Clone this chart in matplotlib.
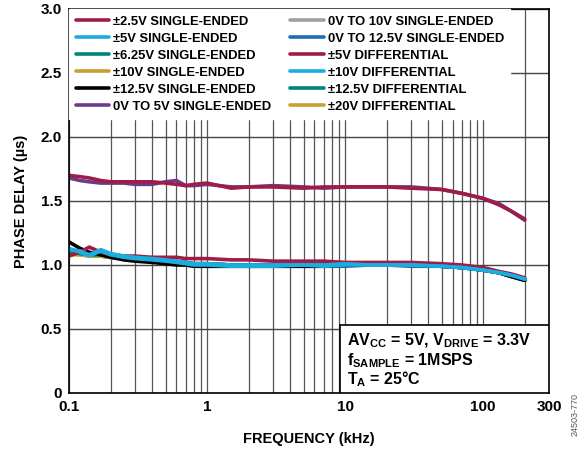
import matplotlib
matplotlib.use("Agg")
import matplotlib.pyplot as plt
from matplotlib.patches import Rectangle
from matplotlib.ticker import LogLocator, NullFormatter

plt.rcParams["font.family"] = ["Liberation Sans", "DejaVu Sans"]
plt.rcParams["font.weight"] = "bold"
plt.rcParams["mathtext.fontset"] = "custom"
plt.rcParams["mathtext.bf"] = "Liberation Sans:bold"
plt.rcParams["mathtext.rm"] = "Liberation Sans:bold"
plt.rcParams["mathtext.default"] = "bf"

# frequency points (kHz)
freq = [0.1, 0.12, 0.14, 0.17, 0.2, 0.25, 0.3, 0.4, 0.5, 0.6, 0.7, 0.8, 1,
        1.5, 2, 3, 5, 7, 10, 15, 20, 30, 50, 70, 100, 130, 160, 200]

# phase delay (us)
se_2v5 = [1.70, 1.69, 1.68, 1.66, 1.65, 1.65, 1.65, 1.65, 1.64, 1.63, 1.62, 1.63, 1.64,
          1.60, 1.61, 1.61, 1.60, 1.61, 1.61, 1.61, 1.61, 1.60, 1.59, 1.56, 1.52, 1.47, 1.42, 1.35]
se_0to5 = [1.68, 1.66, 1.65, 1.64, 1.64, 1.64, 1.63, 1.63, 1.65, 1.66, 1.62, 1.62, 1.63,
           1.61, 1.61, 1.62, 1.61, 1.60, 1.61, 1.61, 1.61, 1.61, 1.59, 1.56, 1.52, 1.48, 1.42, 1.36]
diff_5 = [1.07, 1.10, 1.14, 1.10, 1.08, 1.07, 1.07, 1.06, 1.06, 1.06, 1.05, 1.05, 1.05,
          1.04, 1.04, 1.03, 1.03, 1.03, 1.02, 1.02, 1.02, 1.02, 1.01, 1.00, 0.98, 0.95, 0.93, 0.90]
se_12v5 = [1.18, 1.13, 1.10, 1.08, 1.06, 1.04, 1.03, 1.02, 1.01, 1.00, 1.00, 0.99, 0.99,
           0.99, 0.99, 0.99, 0.99, 0.99, 1.00, 1.00, 1.00, 1.00, 0.99, 0.98, 0.96, 0.94, 0.91, 0.88]
se_5 = [1.13, 1.10, 1.07, 1.11, 1.08, 1.06, 1.05, 1.04, 1.03, 1.02, 1.01, 1.00, 1.00,
        0.99, 0.99, 0.99, 1.00, 0.99, 1.00, 1.00, 1.00, 1.00, 0.99, 0.98, 0.96, 0.94, 0.92, 0.89]
se_6v25 = [1.10, 1.09, 1.08, 1.08, 1.07, 1.06, 1.05, 1.04, 1.03, 1.02, 1.02, 1.01, 1.01,
           1.00, 1.00, 1.00, 1.00, 1.00, 1.00, 1.00, 1.00, 1.00, 0.99, 0.98, 0.96, 0.94, 0.91, 0.88]
se_10 = [1.08, 1.08, 1.07, 1.07, 1.06, 1.05, 1.04, 1.04, 1.03, 1.02, 1.02, 1.01, 1.01,
         1.00, 1.00, 1.00, 1.00, 1.00, 1.00, 1.00, 1.00, 1.00, 0.99, 0.98, 0.96, 0.94, 0.92, 0.89]
se_0to10 = [1.12, 1.10, 1.08, 1.07, 1.06, 1.05, 1.04, 1.03, 1.03, 1.02, 1.01, 1.01, 1.00,
            1.00, 1.00, 1.00, 1.00, 1.00, 1.00, 1.00, 1.00, 1.00, 0.99, 0.98, 0.96, 0.94, 0.92, 0.89]
se_0to12v5 = [1.11, 1.09, 1.08, 1.07, 1.06, 1.05, 1.04, 1.03, 1.02, 1.01, 1.00, 1.00, 0.99,
              0.99, 0.99, 0.99, 0.99, 0.99, 0.99, 1.00, 1.00, 0.99, 0.99, 0.98, 0.96, 0.94, 0.91, 0.89]
diff_10 = [1.12, 1.11, 1.08, 1.12, 1.09, 1.07, 1.06, 1.05, 1.04, 1.03, 1.02, 1.01, 1.01,
           1.00, 1.00, 1.00, 1.00, 1.00, 1.01, 1.00, 1.00, 1.00, 0.99, 0.98, 0.96, 0.94, 0.92, 0.89]
diff_12v5 = [1.10, 1.09, 1.08, 1.08, 1.07, 1.06, 1.05, 1.04, 1.03, 1.02, 1.02, 1.01, 1.01,
             1.00, 1.00, 1.00, 1.00, 1.00, 1.00, 1.00, 1.00, 1.00, 0.99, 0.98, 0.96, 0.94, 0.91, 0.88]
diff_20 = [1.09, 1.08, 1.07, 1.07, 1.06, 1.05, 1.04, 1.04, 1.03, 1.02, 1.02, 1.01, 1.01,
           1.00, 1.00, 1.00, 1.00, 1.00, 1.00, 1.00, 1.00, 1.00, 0.99, 0.98, 0.96, 0.94, 0.92, 0.89]

CRIMSON = "#a01c48"
CYAN = "#1aaee0"
TEAL = "#00857a"
GOLD = "#c8a032"
PURPLE = "#6b3a8c"
GRAY = "#a0a0a0"
BLUE = "#1f6db0"

# (label, data, color) in legend order
series = [
    ("±2.5V SINGLE-ENDED", se_2v5, CRIMSON),
    ("±5V SINGLE-ENDED", se_5, CYAN),
    ("±6.25V SINGLE-ENDED", se_6v25, TEAL),
    ("±10V SINGLE-ENDED", se_10, GOLD),
    ("±12.5V SINGLE-ENDED", se_12v5, "black"),
    ("0V TO 5V SINGLE-ENDED", se_0to5, PURPLE),
    ("0V TO 10V SINGLE-ENDED", se_0to10, GRAY),
    ("0V TO 12.5V SINGLE-ENDED", se_0to12v5, BLUE),
    ("±5V DIFFERENTIAL", diff_5, CRIMSON),
    ("±10V DIFFERENTIAL", diff_10, CYAN),
    ("±12.5V DIFFERENTIAL", diff_12v5, TEAL),
    ("±20V DIFFERENTIAL", diff_20, GOLD),
]
# drawing order (later on top)
draw_order = [6, 7, 3, 11, 2, 10, 4, 8, 5, 0, 1, 9]

fig = plt.figure(figsize=(5.81, 4.50), dpi=100)
ax = fig.add_axes([0.1188, 0.1267, 0.8262, 0.8533])

handles = [None] * len(series)
for i in draw_order:
    label, data, color = series[i]
    (line,) = ax.plot(freq, data, color=color, linewidth=2.6, label=label,
                      solid_capstyle="round", zorder=2)
    handles[i] = line

ax.set_xscale("log")
ax.set_xlim(0.1, 300)
ax.set_ylim(0, 3.0)
ax.set_xticks([0.1, 1, 10, 100, 300])
ax.set_xticklabels(["0.1", "1", "10", "100", "300"])
ax.xaxis.set_minor_locator(LogLocator(base=10, subs=range(2, 10)))
ax.xaxis.set_minor_formatter(NullFormatter())
ax.set_yticks([0, 0.5, 1.0, 1.5, 2.0, 2.5, 3.0])
ax.set_yticklabels(["0", "0.5", "1.0", "1.5", "2.0", "2.5", "3.0"])
ax.tick_params(which="both", length=0, labelsize=11, pad=5)
ax.grid(True, which="both", axis="x", color="#555555", linewidth=0.9, zorder=0)
ax.grid(True, which="major", axis="y", color="#444444", linewidth=1.0, zorder=0)
ax.set_axisbelow(True)
for s in ax.spines.values():
    s.set_linewidth(1.2)

ax.set_xlabel("FREQUENCY (kHz)", fontsize=10.5, fontweight="bold", labelpad=13)
ax.set_ylabel("PHASE DELAY (µs)", fontsize=10.5, fontweight="bold", labelpad=9)

leg = ax.legend(handles=handles, ncol=2, loc="upper left", bbox_to_anchor=(0, 1),
                borderaxespad=0, fontsize=9.4, frameon=True, fancybox=False,
                framealpha=1, edgecolor="white", handlelength=2.6,
                handletextpad=0.3, labelspacing=0.37, columnspacing=1.4,
                borderpad=0.5)
leg.set_zorder(4)
for t in leg.get_texts():
    t.set_fontweight("bold")

# condition box
ax.add_patch(Rectangle((0.565, 0.0), 0.435, 0.177, transform=ax.transAxes,
                       facecolor="white", edgecolor="black", linewidth=1.2,
                       zorder=3))
tx = 0.58
ax.text(tx, 0.135, "AV$_{CC}$ = 5V, V$_{DRIVE}$ = 3.3V", transform=ax.transAxes,
        fontsize=11.5, fontweight="bold", va="center", zorder=5)
ax.text(tx, 0.085, "f$_{SAMPLE}$ = 1MSPS", transform=ax.transAxes,
        fontsize=11.5, fontweight="bold", va="center", zorder=5)
ax.text(tx, 0.035, "T$_{A}$ = 25°C", transform=ax.transAxes,
        fontsize=11.5, fontweight="bold", va="center", zorder=5)

fig.text(0.99, 0.08, "24503-770", rotation=90, fontsize=6.5, color="#555555",
         fontweight="normal", ha="center", va="center")

fig.savefig("out.png", dpi=100)
